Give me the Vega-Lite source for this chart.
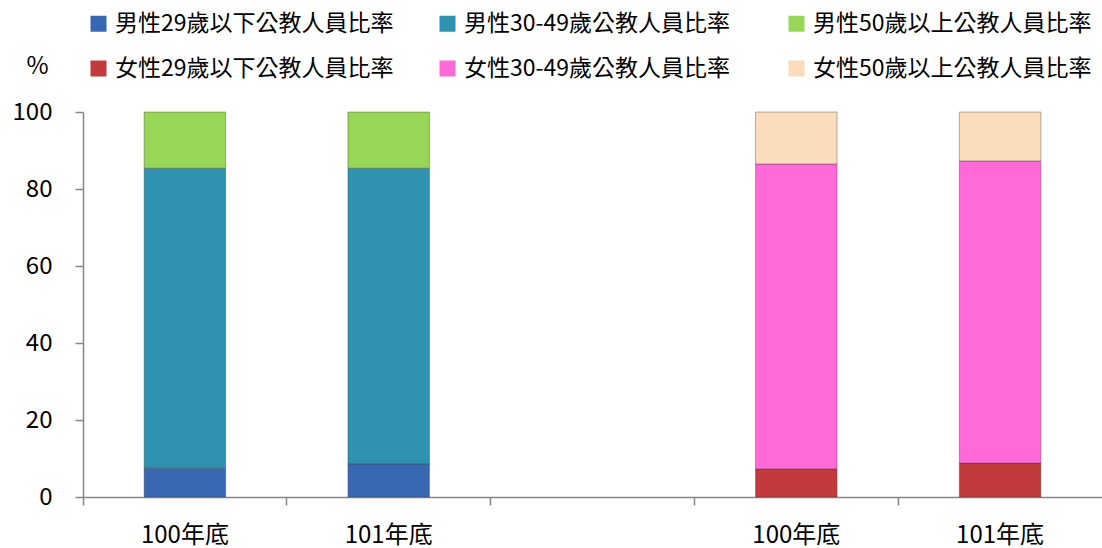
{
  "$schema": "https://vega.github.io/schema/vega-lite/v6.json",
  "width": 1019,
  "height": 385,
  "autosize": {"type": "none"},
  "padding": {"left": 83, "top": 112, "right": 0, "bottom": 51},
  "background": "white",
  "config": {"view": {"stroke": null}, "font": "Noto Sans CJK TC"},
  "data": {
    "values": [
      {"slot": "男100年底", "series": "男性29歲以下公教人員比率", "value": 7.5},
      {"slot": "男100年底", "series": "男性30-49歲公教人員比率", "value": 77.9},
      {"slot": "男100年底", "series": "男性50歲以上公教人員比率", "value": 14.6},
      {"slot": "男101年底", "series": "男性29歲以下公教人員比率", "value": 8.6},
      {"slot": "男101年底", "series": "男性30-49歲公教人員比率", "value": 76.8},
      {"slot": "男101年底", "series": "男性50歲以上公教人員比率", "value": 14.6},
      {"slot": "女100年底", "series": "女性29歲以下公教人員比率", "value": 7.3},
      {"slot": "女100年底", "series": "女性30-49歲公教人員比率", "value": 79.2},
      {"slot": "女100年底", "series": "女性50歲以上公教人員比率", "value": 13.5},
      {"slot": "女101年底", "series": "女性29歲以下公教人員比率", "value": 8.8},
      {"slot": "女101年底", "series": "女性30-49歲公教人員比率", "value": 78.5},
      {"slot": "女101年底", "series": "女性50歲以上公教人員比率", "value": 12.7}
    ]
  },
  "mark": {"type": "bar", "width": {"band": 0.4}, "stroke": "#3a3a3a", "strokeWidth": 0.7, "strokeOpacity": 0.55},
  "encoding": {
    "x": {
      "field": "slot",
      "type": "nominal",
      "scale": {"domain": ["男100年底", "男101年底", "空", "女100年底", "女101年底"], "paddingInner": 0, "paddingOuter": 0},
      "axis": {
        "title": null,
        "labelAngle": 0,
        "bandPosition": 0,
        "labelExpr": "datum.value == '空' ? '' : slice(datum.value, 1)",
        "domainColor": "#868686",
        "domainWidth": 1.5,
        "tickColor": "#868686",
        "tickWidth": 1.5,
        "tickSize": 8,
        "labelFontSize": 24,
        "labelColor": "#000000",
        "labelPadding": 18
      }
    },
    "y": {
      "field": "value",
      "type": "quantitative",
      "stack": "zero",
      "scale": {"domain": [0, 100]},
      "axis": {
        "values": [0, 20, 40, 60, 80, 100],
        "grid": false,
        "domainColor": "#868686",
        "domainWidth": 1.5,
        "tickColor": "#868686",
        "tickWidth": 1.5,
        "tickSize": 8,
        "labelFontSize": 24,
        "labelColor": "#000000",
        "labelPadding": 23,
        "title": "%",
        "titleAngle": 0,
        "titleX": -46,
        "titleY": -46,
        "titleAlign": "center",
        "titleBaseline": "middle",
        "titleFontSize": 24,
        "titleFontWeight": "normal",
        "titleColor": "#000000"
      }
    },
    "order": {"field": "series", "sort": "ascending"},
    "color": {
      "field": "series",
      "type": "nominal",
      "scale": {
        "domain": ["男性29歲以下公教人員比率", "女性29歲以下公教人員比率", "男性30-49歲公教人員比率", "女性30-49歲公教人員比率", "男性50歲以上公教人員比率", "女性50歲以上公教人員比率"],
        "range": ["#3868B2", "#C13A3C", "#2F93AF", "#FF6AD8", "#97D656", "#FBDDBD"]
      },
      "legend": {
        "title": null,
        "orient": "none",
        "legendX": 4,
        "legendY": -100,
        "columns": 3,
        "gridAlign": "all",
        "symbolType": "square",
        "symbolSize": 256,
        "symbolStrokeWidth": 0,
        "labelFontSize": 23,
        "labelColor": "#000000",
        "labelLimit": 400,
        "labelOffset": 5,
        "columnPadding": 42,
        "rowPadding": 21
      }
    }
  }
}
